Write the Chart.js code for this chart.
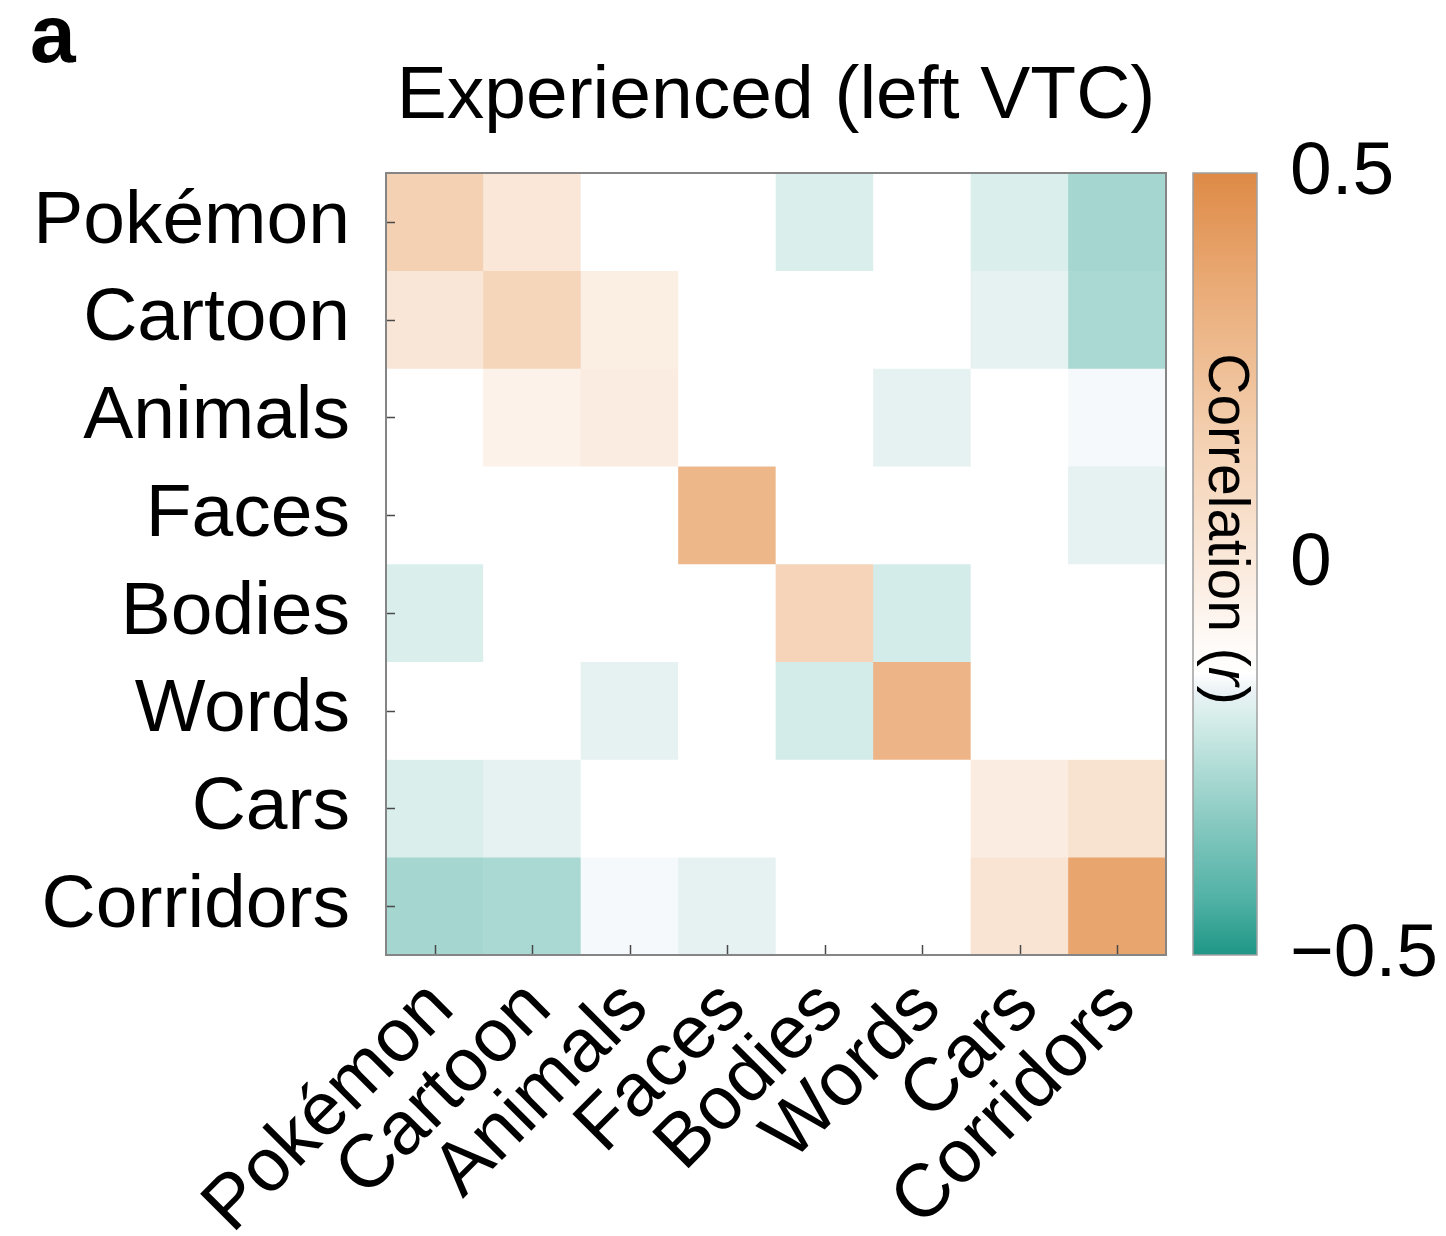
<!DOCTYPE html>
<html>
<head>
<meta charset="utf-8">
<title>Experienced (left VTC)</title>
<script src="https://cdn.jsdelivr.net/npm/chart.js@4.4.1/dist/chart.umd.min.js"></script>
<style>
  html, body { margin: 0; padding: 0; background: #fff; }
  #wrap { position: absolute; left: 0; top: 0; width: 1446px; height: 1236px; }
</style>
</head>
<body>
<div id="wrap"><canvas id="c" width="1446" height="1236"></canvas></div>
<script>
// Stimulus categories (rows top-to-bottom, columns left-to-right)
const categories = ['Pokémon', 'Cartoon', 'Animals', 'Faces', 'Bodies', 'Words', 'Cars', 'Corridors'];

// Correlation (r) between category response patterns, one array per row
const pokemonRow   = [ 0.15,  0.01, -0.14, -0.14, -0.19, -0.14, -0.19, -0.28];
const cartoonRow   = [ 0.02,  0.12, -0.03, -0.14, -0.14, -0.14, -0.17, -0.27];
const animalsRow   = [-0.14, -0.05, -0.02, -0.14, -0.14, -0.17, -0.14, -0.15];
const facesRow     = [-0.14, -0.14, -0.14,  0.29, -0.14, -0.14, -0.14, -0.17];
const bodiesRow    = [-0.19, -0.14, -0.14, -0.14,  0.13, -0.20, -0.14, -0.14];
const wordsRow     = [-0.14, -0.14, -0.17, -0.14, -0.20,  0.30, -0.14, -0.14];
const carsRow      = [-0.19, -0.17, -0.14, -0.14, -0.14, -0.14, -0.02,  0.04];
const corridorsRow = [-0.28, -0.27, -0.15, -0.17, -0.14, -0.14,  0.03,  0.38];

// Colour bar ticks
const colorbarTicks = [-0.5, 0, 0.5];
const colorbarTickLabels = ['\u22120.5', '0', '0.5'];

const matrix = [pokemonRow, cartoonRow, animalsRow, facesRow, bodiesRow, wordsRow, carsRow, corridorsRow];

// Diverging colour map (value -> rgb), teal for negative, orange for positive
const colormapStops = [
  [-0.50, [30, 150, 134]],
  [-0.43, [80, 177, 165]],
  [-0.34, [130, 199, 190]],
  [-0.26, [176, 220, 214]],
  [-0.19, [218, 239, 236]],
  [-0.165, [233, 241, 244]],
  [-0.14, [255, 255, 255]],
  [-0.10, [254, 250, 247]],
  [ 0.00, [250, 233, 219]],
  [ 0.17, [243, 206, 174]],
  [ 0.35, [234, 172, 120]],
  [ 0.50, [222, 138, 70]]
];

function colorFor(v) {
  const s = colormapStops;
  if (v <= s[0][0]) return `rgb(${s[0][1].join(',')})`;
  for (let k = 1; k < s.length; k++) {
    if (v <= s[k][0]) {
      const [v0, c0] = s[k - 1], [v1, c1] = s[k];
      const t = (v - v0) / (v1 - v0);
      const c = c0.map((a, j) => Math.round(a + (c1[j] - a) * t));
      return `rgb(${c.join(',')})`;
    }
  }
  return `rgb(${s[s.length - 1][1].join(',')})`;
}

const FONT = "'Liberation Sans', Arial, Helvetica, sans-serif";
const labelFont = { family: FONT, size: 75 };

// Each row is one dataset of floating bars spanning [row-0.5, row+0.5]
const datasets = matrix.map((row, i) => ({
  label: categories[i],
  data: row.map(() => [i - 0.5, i + 0.5]),
  backgroundColor: row.map(colorFor),
  borderWidth: 0,
  grouped: false,
  barPercentage: 1,
  categoryPercentage: 1
}));

// Inward tick marks, frame, colour bar and panel letter
const heatmapDecor = {
  id: 'heatmapDecor',
  afterDatasetsDraw(chart) {
    const { ctx, chartArea: a, scales: { x, y } } = chart;
    ctx.save();
    ctx.strokeStyle = '#4a4a4a';
    ctx.lineWidth = 1.5;
    ctx.beginPath();
    categories.forEach((_, i) => {
      const py = Math.round(y.getPixelForValue(i)) + 0.5;
      ctx.moveTo(a.left, py); ctx.lineTo(a.left + 9, py);
      const px = Math.round(x.getPixelForValue(i)) + 0.5;
      ctx.moveTo(px, a.bottom); ctx.lineTo(px, a.bottom - 10);
    });
    ctx.stroke();
    ctx.strokeStyle = '#858585';
    ctx.lineWidth = 2;
    ctx.strokeRect(a.left, a.top, a.right - a.left, a.bottom - a.top);
    ctx.restore();
  },
  afterDraw(chart) {
    const { ctx, chartArea: a, scales: { yc } } = chart;
    const top = yc.getPixelForValue(0.5);
    const bottom = yc.getPixelForValue(-0.5);
    const left = a.right + 27;
    const w = 64;
    ctx.save();
    const g = ctx.createLinearGradient(0, top, 0, bottom);
    colormapStops.forEach(([v, c]) => g.addColorStop(0.5 - v, `rgb(${c.join(',')})`));
    ctx.fillStyle = g;
    ctx.fillRect(left, top, w, bottom - top);
    ctx.strokeStyle = '#a0a0a0';
    ctx.lineWidth = 1.5;
    ctx.strokeRect(left, top, w, bottom - top);

    // Colour bar title, rotated to read downwards
    const normal = `57px ${FONT}`;
    const italic = `italic 57px ${FONT}`;
    const parts = [['Correlation (', normal], ['r', italic], [')', normal]];
    let total = 0;
    parts.forEach(([t, f]) => { ctx.font = f; total += ctx.measureText(t).width; });
    ctx.translate(left + 16, 529);
    ctx.rotate(Math.PI / 2);
    ctx.fillStyle = '#000';
    ctx.textBaseline = 'alphabetic';
    ctx.textAlign = 'left';
    let cx = -total / 2;
    parts.forEach(([t, f]) => { ctx.font = f; ctx.fillText(t, cx, 0); cx += ctx.measureText(t).width; });
    ctx.restore();

    // Panel letter
    ctx.save();
    ctx.font = `bold 82px ${FONT}`;
    ctx.fillStyle = '#000';
    ctx.textBaseline = 'alphabetic';
    ctx.textAlign = 'left';
    ctx.fillText('a', 30, 62);
    ctx.restore();
  }
};

new Chart(document.getElementById('c'), {
  type: 'bar',
  data: { labels: categories, datasets },
  plugins: [heatmapDecor],
  options: {
    responsive: false,
    devicePixelRatio: 1,
    animation: false,
    events: [],
    layout: { padding: 0 },
    plugins: {
      legend: { display: false },
      tooltip: { enabled: false },
      title: {
        display: true,
        text: 'Experienced (left VTC)',
        fullSize: false,
        color: '#000',
        font: { family: FONT, size: 75, weight: 'normal' },
        padding: { top: 52, bottom: 31 }
      }
    },
    scales: {
      x: {
        type: 'category',
        offset: true,
        grid: { display: false, drawTicks: false },
        border: { display: false },
        ticks: {
          color: '#000',
          font: labelFont,
          minRotation: 45,
          maxRotation: 45,
          autoSkip: false,
          padding: 9,
          labelOffset: 7
        },
        afterFit(s) { s.height = 281; }
      },
      y: {
        type: 'linear',
        position: 'left',
        min: -0.5,
        max: 7.5,
        reverse: true,
        grid: { display: false, drawTicks: false },
        border: { display: false },
        afterBuildTicks(s) { s.ticks = categories.map((_, i) => ({ value: i })); },
        ticks: {
          color: '#000',
          font: labelFont,
          padding: 36,
          autoSkip: false,
          callback: (v, i) => categories[i]
        },
        afterFit(s) { s.width = 386; }
      },
      yc: {
        type: 'linear',
        position: 'right',
        min: -0.5,
        max: 0.5,
        grid: { display: false, drawTicks: false },
        border: { display: false },
        afterBuildTicks(s) { s.ticks = colorbarTicks.map(v => ({ value: v })); },
        ticks: {
          color: '#000',
          font: labelFont,
          padding: 124,
          autoSkip: false,
          callback: (v, i) => colorbarTickLabels[i]
        },
        afterFit(s) { s.width = 280; }
      }
    }
  }
});
</script>
</body>
</html>
